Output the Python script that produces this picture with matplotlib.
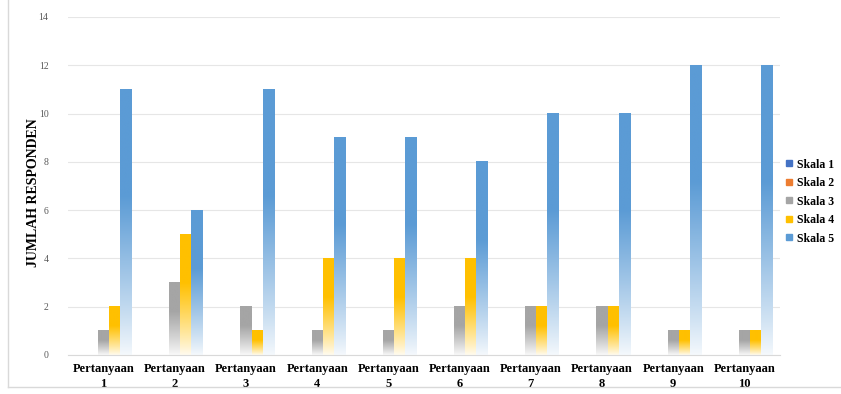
import numpy as np
import matplotlib.pyplot as plt
from matplotlib.colors import to_rgb
from matplotlib.lines import Line2D

# Datos
kategori = [f"Pertanyaan\n{i}" for i in range(1, 11)]
skala_1 = [0, 0, 0, 0, 0, 0, 0, 0, 0, 0]
skala_2 = [0, 0, 0, 0, 0, 0, 0, 0, 0, 0]
skala_3 = [1, 3, 2, 1, 1, 2, 2, 2, 1, 1]
skala_4 = [2, 5, 1, 4, 4, 4, 2, 2, 1, 1]
skala_5 = [11, 6, 11, 9, 9, 8, 10, 10, 12, 12]
series = ["Skala 1", "Skala 2", "Skala 3", "Skala 4", "Skala 5"]
warna = ["#4472C4", "#ED7D31", "#A5A5A5", "#FFC000", "#5B9BD5"]

plt.rcParams['font.family'] = ['Liberation Serif', 'DejaVu Serif']

fig = plt.figure(figsize=(8.41, 3.94), dpi=100)
ax = fig.add_axes([68 / 841, 1 - 355 / 394, 712 / 841, 338 / 394])

x = np.arange(len(kategori))
w = 0.155
data = [skala_1, skala_2, skala_3, skala_4, skala_5]

def gradient(c, n=200):
    t = np.linspace(0, 1, n)[:, None]
    mix = 0.06 + 0.94 * np.clip(t / 0.6, 0, 1) ** 0.9
    rgb = np.array(to_rgb(c))[None, :]
    img = (1 - mix) * 1.0 + mix * rgb
    return img[::-1][:, None, :]

for k, (vals, c) in enumerate(zip(data, warna)):
    bars = ax.bar(x + (k - 2) * w, vals, width=w, color='none', linewidth=0)
    g = gradient(c)
    for b in bars:
        h = b.get_height()
        if h <= 0:
            continue
        x0 = b.get_x()
        ax.imshow(g, extent=[x0, x0 + b.get_width(), 0, h], aspect='auto',
                  interpolation='bilinear', zorder=2)

ax.set_xlim(-0.5, len(kategori) - 0.5)
ax.set_ylim(0, 14)
ax.set_yticks(range(0, 15, 2))
ax.set_xticks(x)
ax.set_xticklabels(kategori, fontsize=9, fontweight='bold', linespacing=1.25)
ax.tick_params(axis='y', labelsize=7, colors='#595959', length=0, pad=14)
ax.tick_params(axis='x', length=0, pad=6)
ax.grid(axis='y', color='#E6E6E6', linewidth=0.8, zorder=0)
ax.set_axisbelow(True)
for s in ['top', 'right', 'left']:
    ax.spines[s].set_visible(False)
ax.spines['bottom'].set_color('#D9D9D9')
ax.set_ylabel('JUMLAH RESPONDEN', fontsize=10, fontweight='bold')
ax.yaxis.set_label_coords((40 - 68) / 712, 0.48)

# Leyenda (cortada por el borde derecho)
handles = [Line2D([], [], marker='s', linestyle='none', markersize=4,
                  markerfacecolor=c, markeredgecolor=c) for c in warna]
leg = fig.legend(handles, series, loc='upper left', bbox_to_anchor=(774 / 841, 1 - 148 / 394),
                 frameon=False, handlelength=0.7, handletextpad=0.35,
                 labelspacing=0.55, prop={'weight': 'bold', 'size': 8.5})

# Marco exterior gris
fig.add_artist(Line2D([8 / 841, 8 / 841], [1 - 387 / 394, 1.0], transform=fig.transFigure,
                      color='#D9D9D9', linewidth=1))
fig.add_artist(Line2D([8 / 841, 1.0], [1 - 387 / 394, 1 - 387 / 394], transform=fig.transFigure,
                      color='#D9D9D9', linewidth=1))

plt.savefig('out.png', dpi=100)
